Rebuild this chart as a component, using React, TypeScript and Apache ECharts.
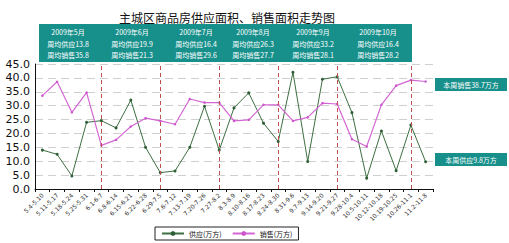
import React, { useEffect, useRef } from "react";
import * as echarts from "echarts";

const categories = [
  "5.4-5.10", "5.11-5.17", "5.18-5.24", "5.25-5.31",
  "6.1-6.7", "6.8-6.14", "6.15-6.21", "6.22-6.28",
  "6.29-7.5", "7.6-7.12", "7.13-7.19", "7.20-7.26",
  "7.27-8.2", "8.3-8.9", "8.10-8.16", "8.17-8.23",
  "8.24-8.30", "8.31-9.6", "9.7-9.13", "9.14-9.20",
  "9.21-9.27", "9.28-10.4", "10.5-10.11", "10.12-10.18",
  "10.19-10.25", "10.26-11.1", "11.2-11.8",
];
const supply = [14.0, 12.5, 4.7, 24.0, 24.6, 22.0, 32.0, 15.0, 5.9, 6.5, 15.0, 29.8, 14.0, 29.2, 34.6, 23.7, 17.1, 42.0, 9.9, 39.5, 40.4, 27.5, 3.9, 20.9, 6.6, 23.0, 9.8];
const sales = [33.6, 38.6, 27.6, 34.7, 15.7, 17.7, 22.5, 25.5, 24.5, 23.3, 32.4, 31.1, 31.1, 24.5, 24.9, 30.3, 30.3, 24.5, 25.8, 30.9, 30.6, 17.9, 15.3, 30.3, 37.2, 39.2, 38.7];
const monthDividers = [4, 8, 12, 16, 20, 25];
const monthTitles = ["2009年5月", "2009年6月", "2009年7月", "2009年8月", "2009年9月", "2009年10月"];
const monthSupplyText = ["周均供应13.8", "周均供应19.9", "周均供应16.4", "周均供应26.3", "周均供应33.2", "周均供应16.4"];
const monthSalesText = ["周均销售35.8", "周均销售21.3", "周均销售29.6", "周均销售27.7", "周均销售28.1", "周均销售28.2"];
const monthCenters = [68, 132, 196, 253, 313, 378];
const yTicks = { min: 0, max: 45, interval: 5 };

const TEAL = "#17908b";
const FONT = "'Noto Sans CJK SC', 'DejaVu Sans', sans-serif";

export default function App() {
  const ref = useRef<HTMLDivElement>(null);
  useEffect(() => {
    const chart = echarts.init(ref.current!, undefined, { renderer: "svg" });
    const headerTexts: any[] = [];
    monthTitles.forEach((t, i) => {
      const lines = [t, monthSupplyText[i], monthSalesText[i]];
      const ys = [32, 44, 55];
      lines.forEach((s, j) => {
        headerTexts.push({
          type: "text",
          x: monthCenters[i],
          y: ys[j],
          style: {
            text: s,
            fill: "#ffffff",
            font: `7px ${FONT}`,
            textAlign: "center",
            textVerticalAlign: "middle",
          },
        });
      });
    });
    chart.setOption({
      animation: false,
      textStyle: { fontFamily: FONT },
      title: {
        text: "主城区商品房供应面积、销售面积走势图",
        left: 222,
        textAlign: "center",
        top: 6,
        textStyle: { fontSize: 12, fontWeight: "normal", color: "#111", fontFamily: FONT },
      },
      legend: {
        left: 155,
        top: 227,
        width: 132,
        height: 15,
        padding: [3, 6, 3, 6],
        borderColor: "#222",
        borderWidth: 1,
        itemWidth: 22,
        itemHeight: 6,
        itemGap: 10,
        textStyle: { fontSize: 7, color: "#111", fontFamily: FONT },
        data: ["供应(万方)", "销售(万方)"],
      },
      grid: { left: 35, right: 76, top: 64, bottom: 54 },
      xAxis: {
        type: "category",
        data: categories,
        boundaryGap: true,
        axisLine: { lineStyle: { color: "#111", width: 1 } },
        axisTick: { show: true, length: 3, lineStyle: { color: "#111" } },
        axisLabel: { rotate: 45, fontSize: 6, color: "#333", margin: 5, interval: 0, fontFamily: "'DejaVu Sans', sans-serif" },
      },
      yAxis: {
        type: "value",
        min: yTicks.min,
        max: yTicks.max,
        interval: yTicks.interval,
        axisLine: { show: true, lineStyle: { color: "#111" } },
        axisTick: { show: false },
        axisLabel: {
          fontSize: 11,
          color: "#111",
          margin: 5,
          fontFamily: "'DejaVu Sans', sans-serif",
          formatter: (v: number) => v.toFixed(1),
        },
        splitLine: { show: true, lineStyle: { color: "#cfcfcf", type: [8, 5], width: 1 } },
      },
      series: [
        {
          name: "供应(万方)",
          type: "line",
          data: supply,
          symbol: "circle",
          symbolSize: 3,
          itemStyle: { color: "#2f5f36" },
          lineStyle: { color: "#3d6f42", width: 1 },
          markLine: {
            silent: true,
            symbol: "none",
            label: { show: false },
            lineStyle: { color: "#c0504d", type: [4, 3], width: 1 },
            data: monthDividers.map((i) => ({ xAxis: i })),
          },
        },
        {
          name: "销售(万方)",
          type: "line",
          data: sales,
          symbol: "circle",
          symbolSize: 2.5,
          itemStyle: { color: "#cc55cc" },
          lineStyle: { color: "#d466d4", width: 1.2 },
        },
      ],
      graphic: [
        {
          type: "rect",
          shape: { x: 39, y: 24, width: 373, height: 38 },
          style: { fill: TEAL },
          z: 10,
        },
        ...headerTexts.map((t) => ({ ...t, z: 11 })),
        {
          type: "rect",
          shape: { x: 435, y: 78, width: 72, height: 13 },
          style: { fill: TEAL },
          z: 10,
        },
        {
          type: "text",
          x: 471,
          y: 84.5,
          z: 11,
          style: { text: "本周销售38.7万方", fill: "#fff", font: `7px ${FONT}`, textAlign: "center", textVerticalAlign: "middle" },
        },
        {
          type: "rect",
          shape: { x: 435, y: 153, width: 72, height: 13 },
          style: { fill: TEAL },
          z: 10,
        },
        {
          type: "text",
          x: 471,
          y: 159.5,
          z: 11,
          style: { text: "本周供应9.8万方", fill: "#fff", font: `7px ${FONT}`, textAlign: "center", textVerticalAlign: "middle" },
        },
      ],
    });
    return () => chart.dispose();
  }, []);
  return (
    <div
      ref={ref}
      style={{ position: "fixed", left: 0, top: 0, width: 509, height: 243, background: "#fff" }}
    />
  );
}
